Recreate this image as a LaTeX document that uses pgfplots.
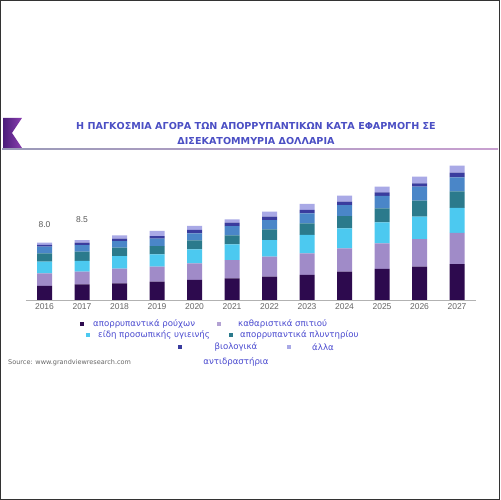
\documentclass[border=0pt]{standalone}
\usepackage{pgfplots}
\pgfplotsset{compat=1.18}
\usepackage{fontspec}
\setmainfont{DejaVu Sans}
\newfontfamily\libsans{Liberation Sans}
\definecolor{c1}{HTML}{2D0A4E}
\definecolor{c2}{HTML}{A08BC8}
\definecolor{c3}{HTML}{4CC9F0}
\definecolor{c4}{HTML}{2B7A8C}
\definecolor{c5}{HTML}{4A86C8}
\definecolor{c6}{HTML}{3A3C9E}
\definecolor{c7}{HTML}{A9A9E6}
\definecolor{titleblue}{HTML}{4B4FC4}
\definecolor{legblue}{HTML}{4A4AD0}
\definecolor{logoA}{HTML}{4B1D7A}
\definecolor{logoB}{HTML}{8A3FB0}
\definecolor{lineA}{HTML}{9A9AB8}
\definecolor{lineB}{HTML}{C8A0D0}
\begin{document}
\begin{tikzpicture}[x=1bp,y=1bp]
\useasboundingbox (0,0) rectangle (500,500);
\fill[white] (0,0) rectangle (500,500);
\draw[line width=1bp, black!80] (0.5,0.5) rectangle (499.5,499.5);
% logo
\shade[left color=logoA, right color=logoB] (3,382)--(22,382)--(12,367)--(22,352)--(3,352)--cycle;
% title
\node[font=\fontsize{9.6bp}{15bp}\selectfont\bfseries, text=titleblue, align=center] at (256,366) {Η ΠΑΓΚΟΣΜΙΑ ΑΓΟΡΑ ΤΩΝ ΑΠΟΡΡΥΠΑΝΤΙΚΩΝ ΚΑΤΑ ΕΦΑΡΜΟΓΗ ΣΕ\\ΔΙΣΕΚΑΤΟΜΜΥΡΙΑ ΔΟΛΛΑΡΙΑ};
\shade[left color=lineA, right color=lineB] (2,350.2) rectangle (498,351.8);
\begin{axis}[
  at={(25.75bp,200bp)}, anchor=south west, scale only axis,
  width=450bp, height=143bp,
  xmin=-0.5, xmax=11.5, ymin=0, ymax=20,
  ybar stacked, bar width=15bp,
  axis x line*=bottom, hide y axis,
  x axis line style={draw=gray!60, line width=0.8bp},
  xtick={0,...,11},
  xticklabels={2016,2017,2018,2019,2020,2021,2022,2023,2024,2025,2026,2027},
  major tick length=0pt,
  xticklabel style={font=\libsans\fontsize{8.5bp}{10bp}\selectfont, text=black!60},
  /pgf/number format/assume math mode=true,
  clip=false,
]
\addplot[fill=c1, draw=none] coordinates {(0,1.96) (1,2.2) (2,2.33) (3,2.56) (4,2.8) (5,3.03) (6,3.26) (7,3.5) (8,3.96) (9,4.34) (10,4.66) (11,5.0)};
\addplot[fill=c2, draw=none] coordinates {(0,1.77) (1,1.77) (2,2.05) (3,2.1) (4,2.33) (5,2.56) (6,2.8) (7,3.03) (8,3.26) (9,3.59) (10,3.87) (11,4.4)};
\addplot[fill=c3, draw=none] coordinates {(0,1.63) (1,1.49) (2,1.77) (3,1.72) (4,1.96) (5,2.19) (6,2.33) (7,2.56) (8,2.8) (9,2.94) (10,3.12) (11,3.5)};
\addplot[fill=c4, draw=none] coordinates {(0,1.17) (1,1.3) (2,1.17) (3,1.17) (4,1.26) (5,1.26) (6,1.49) (7,1.63) (8,1.72) (9,1.96) (10,2.24) (11,2.3)};
\addplot[fill=c5, draw=none] coordinates {(0,0.93) (1,0.93) (2,0.93) (3,1.03) (4,0.98) (5,1.3) (6,1.3) (7,1.4) (8,1.54) (9,1.72) (10,1.96) (11,1.96)};
\addplot[fill=c6, draw=none] coordinates {(0,0.25) (1,0.33) (2,0.33) (3,0.37) (4,0.47) (5,0.47) (6,0.47) (7,0.47) (8,0.47) (9,0.51) (10,0.47) (11,0.65)};
\addplot[fill=c7, draw=none] coordinates {(0,0.33) (1,0.37) (2,0.47) (3,0.7) (4,0.56) (5,0.47) (6,0.7) (7,0.84) (8,0.84) (9,0.79) (10,0.93) (11,1.0)};
\node[font=\libsans\fontsize{8.5bp}{10bp}\selectfont, text=black!65] at (axis cs:0,8.04) [yshift=18bp] {8.0};
\node[font=\libsans\fontsize{8.5bp}{10bp}\selectfont, text=black!65] at (axis cs:1,8.39) [yshift=20bp] {8.5};
\end{axis}
% legend
\begin{scope}[every node/.style={font=\fontsize{8.6bp}{15bp}\selectfont, text=legblue, inner sep=0pt}]
\fill[c1] (79.7,173.7) rectangle +(4.6,4.6);
\node[anchor=west] at (93,176) {απορρυπαντικά ρούχων};
\fill[c2!80] (216.7,173.7) rectangle +(4.6,4.6);
\node[anchor=west] at (238,176) {καθαριστικά σπιτιού};
\fill[c3] (85.7,162.7) rectangle +(4.6,4.6);
\node[anchor=west] at (98,165) {είδη προσωπικής υγιεινής};
\fill[c4] (228.7,162.7) rectangle +(4.6,4.6);
\node[anchor=west] at (240,165) {απορρυπαντικά πλυντηρίου};
\fill[c6] (177.7,150.7) rectangle +(4.6,4.6);
\node[align=center] at (236,145.5) {βιολογικά\\αντιδραστήρια};
\fill[c7] (286.7,150.7) rectangle +(4.6,4.6);
\node at (323,153) {άλλα};
\end{scope}
\node[anchor=west, inner sep=0pt, font=\fontsize{6.5bp}{8bp}\selectfont, text=black!60] at (8,137) {Source: www.grandviewresearch.com};
\end{tikzpicture}
\end{document}
